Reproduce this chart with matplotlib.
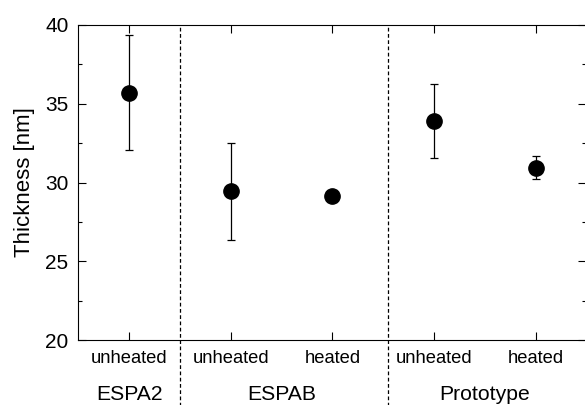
import matplotlib
matplotlib.use("Agg")
import matplotlib.pyplot as plt
from matplotlib.ticker import MultipleLocator

plt.rcParams['font.family'] = ['Liberation Sans', 'DejaVu Sans']

groups = ['ESPA2', 'ESPAB', 'Prototype']
group_centers = [1, 2.5, 4.5]
conditions = ['unheated', 'unheated', 'heated', 'unheated', 'heated']
pos = [1, 2, 3, 4, 5]
thickness = [35.7, 29.45, 29.15, 33.9, 30.95]
err = [3.65, 3.08, 0.0, 2.33, 0.75]
dividers = [1.5, 3.55]

fig = plt.figure(figsize=(5.85, 4.05), dpi=100)
ax = fig.add_axes([78.3/585, 65/405, 1.0025 - 78.3/585, 315/405])

ax.errorbar(pos, thickness, yerr=err, fmt='o', color='black', ms=11,
            ecolor='black', elinewidth=0.9, capsize=3.2, capthick=0.9)

ax.set_xlim(0.5, 5.5)
ax.set_ylim(20, 40)
ax.set_xticks(pos)
ax.set_xticklabels(conditions, fontsize=13.2)
ax.yaxis.set_major_locator(MultipleLocator(5))
ax.yaxis.set_minor_locator(MultipleLocator(2.5))
ax.tick_params(axis='y', which='major', direction='in', length=6, labelsize=15,
               right=True, width=0.8, pad=7)
ax.tick_params(axis='y', which='minor', direction='in', length=3, right=True, width=0.8)
ax.tick_params(axis='x', direction='in', length=6, top=True, width=0.8, pad=7)
ax.set_ylabel('Thickness [nm]', fontsize=16, labelpad=7.5)

for d in dividers:
    ax.axvline(d, color='black', ls=(0, (3, 2)), lw=0.9, ymin=-0.3, ymax=1, clip_on=False)

for g, c in zip(groups, group_centers):
    ax.text(c, -0.172, g, transform=ax.get_xaxis_transform(), ha='center', va='center',
            fontsize=15.2)

fig.savefig('out.png', dpi=100)
